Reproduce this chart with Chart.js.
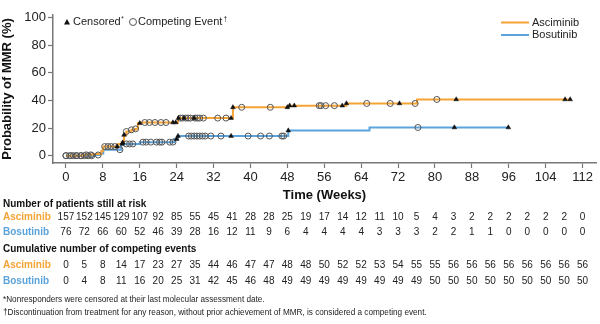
<!DOCTYPE html>
<html><head><meta charset="utf-8">
<script src="https://cdn.jsdelivr.net/npm/chart.js@4.4.1/dist/chart.umd.min.js"></script>
<style>html,body{margin:0;padding:0;background:#fff}#wrap{width:600px;height:324px;position:relative}</style>
</head><body><div id="wrap"><canvas id="c" width="600" height="324"></canvas></div>
<script>
// ---------- data ----------
const xTicks = [0,8,16,24,32,40,48,56,64,72,80,88,96,104,112];
const yTicks = [0,20,40,60,80,100];
const tableWeeks = [0,4,8,12,16,20,24,28,32,36,40,44,48,52,56,60,64,68,72,76,80,84,88,92,96,100,104,108,112];

const ascAtRisk = [157,152,145,129,107,92,85,55,45,41,28,28,25,19,17,14,12,11,10,5,4,3,2,2,2,2,2,2,0];
const bosAtRisk = [76,72,66,60,52,46,39,28,16,12,11,9,6,4,4,4,4,3,3,3,2,2,1,1,0,0,0,0,0];
const ascCompeting = [0,5,8,14,17,23,27,35,44,46,47,47,48,48,50,52,52,53,54,55,55,56,56,56,56,56,56,56,56];
const bosCompeting = [0,4,8,11,16,20,25,31,42,45,46,48,49,49,49,49,49,49,49,49,50,50,50,50,50,50,50,50,50];

// cumulative incidence step curves (week at which value starts, %)
const ascStepWeeks = [0,3.6,5.9,7.7,8.1,11.3,12.1,12.6,13.1,14.2,15.1,15.6,16.3,24.3,36.2,48.3,60.8,76.1,109.4];
const ascStepPct   = [0,0.6,1.2,3.5,6.6,8.5,9.5,15,17.5,18.7,19.4,23.5,24,27.2,35,36.2,37.8,40.7,40.7];
const bosStepWeeks = [0,6.3,7.3,8.1,12,16,23.5,24.3,48.2,65.8,95.9];
const bosStepPct   = [0,0.5,1.5,4.3,8.5,9.8,12,14.2,18.2,20.4,20.4];

// marker weeks
const ascCensoredWeeks = [11.1,12.3,12.6,16.0,23.2,23.8,24.4,25.6,27.8,35.8,36.2,48.0,48.5,49.5,59.9,60.8,72.3,84.6,108.2,109.3];
const ascCompetingWeeks = [0,1.1,2.2,3.3,4.4,5.4,8.4,9.1,9.8,10.6,13.1,14.2,15.1,17.1,18.1,19.3,20.6,21.7,24.8,25.3,26.0,26.5,27.0,28.0,28.5,29.0,29.8,32.9,34.7,38.1,44.3,54.9,55.3,56.3,58.2,65.2,70.3,75.7,80.4];
const bosCensoredWeeks = [12.2,24.0,24.3,35.8,48.2,84.2,95.9];
const bosCompetingWeeks = [0,0.8,1.6,2.4,3.2,4.0,4.8,5.6,7.0,11.7,13.1,13.8,14.5,16.7,17.4,18.4,19.6,20.3,20.8,22.5,23.2,26.6,27.2,27.8,28.4,29.0,29.6,30.2,31.4,33.6,39.5,42.2,44.1,46.8,47.2,76.3];

// ---------- helpers ----------
const FAM = '"Liberation Sans", Arial, Helvetica, sans-serif';
const ORANGE = '#F5A334';
const BLUE = '#5BA3DC';
function steps(ws, ps){ return ws.map((w,i)=>({x:w,y:ps[i]})); }
function valueAt(ws, ps, w){ let v = ps[0]; for (let i=0;i<ws.length;i++){ if (ws[i] <= w + 1e-9) v = ps[i]; } return v; }
function markers(mw, ws, ps){ return mw.map(w=>({x:w, y:valueAt(ws, ps, w)})); }

const circleStyle = {type:'line', showLine:false, pointStyle:'circle', pointRadius:3, pointHoverRadius:3,
  pointBackgroundColor:'rgba(255,255,255,0)', pointBorderColor:'#555', pointBorderWidth:1, order:0};
const triStyle = {type:'line', showLine:false, pointStyle:'triangle', pointRadius:2.7, pointHoverRadius:2.7,
  pointBackgroundColor:'#111', pointBorderColor:'#111', pointBorderWidth:0.5, order:0};

const overlay = {
  id:'overlay',
  afterDraw(chart){
    const ctx = chart.ctx, xs = chart.scales.x;
    ctx.save();
    ctx.textBaseline = 'middle';
    // top-left marker legend
    ctx.fillStyle = '#111';
    ctx.beginPath(); ctx.moveTo(67,19); ctx.lineTo(70,24.5); ctx.lineTo(64,24.5); ctx.closePath(); ctx.fill();
    ctx.font = '11px ' + FAM; ctx.textAlign = 'left'; ctx.fillStyle = '#222';
    ctx.fillText('Censored', 73, 22);
    let w1 = ctx.measureText('Censored').width;
    ctx.font = '6.5px ' + FAM; ctx.fillText('*', 73 + w1 + 0.5, 19);
    ctx.strokeStyle = '#555'; ctx.lineWidth = 1;
    ctx.beginPath(); ctx.arc(133, 22, 3.5, 0, Math.PI*2); ctx.stroke();
    ctx.font = '11px ' + FAM;
    ctx.fillText('Competing Event', 138, 22);
    let w2 = ctx.measureText('Competing Event').width;
    ctx.font = '6.5px ' + FAM; ctx.fillText('\u2020', 138 + w2 + 1, 19);
    // right series legend
    ctx.lineWidth = 2;
    ctx.strokeStyle = ORANGE; ctx.beginPath(); ctx.moveTo(501,22.5); ctx.lineTo(529,22.5); ctx.stroke();
    ctx.strokeStyle = BLUE; ctx.beginPath(); ctx.moveTo(501,35); ctx.lineTo(529,35); ctx.stroke();
    ctx.font = '11px ' + FAM; ctx.fillStyle = '#222';
    ctx.fillText('Asciminib', 532, 22.5);
    ctx.fillText('Bosutinib', 532, 35);

    // tables
    const row = (label, color, vals, y) => {
      ctx.font = 'bold 10px ' + FAM; ctx.fillStyle = color; ctx.textAlign = 'left';
      ctx.fillText(label, 3, y);
      ctx.font = '10px ' + FAM; ctx.fillStyle = '#222'; ctx.textAlign = 'center';
      vals.forEach((v,i)=> ctx.fillText(String(v), xs.getPixelForValue(tableWeeks[i]), y));
    };
    ctx.font = 'bold 10px ' + FAM; ctx.fillStyle = '#111'; ctx.textAlign = 'left';
    ctx.fillText('Number of patients still at risk', 3, 204);
    row('Asciminib', ORANGE, ascAtRisk, 217.5);
    row('Bosutinib', BLUE, bosAtRisk, 232.5);
    ctx.font = 'bold 10px ' + FAM; ctx.fillStyle = '#111'; ctx.textAlign = 'left';
    ctx.fillText('Cumulative number of competing events', 3, 249.5);
    row('Asciminib', ORANGE, ascCompeting, 265.5);
    row('Bosutinib', BLUE, bosCompeting, 281);
    // footnotes
    ctx.font = '8.2px ' + FAM; ctx.fillStyle = '#222'; ctx.textAlign = 'left';
    ctx.fillText('*Nonresponders were censored at their last molecular assessment date.', 3, 300);
    ctx.fillText('\u2020Discontinuation from treatment for any reason, without prior achievement of MMR, is considered a competing event.', 3, 313);
    ctx.restore();
  }
};

new Chart(document.getElementById('c'), {
  type:'line',
  data:{ datasets:[
    Object.assign({label:'Asciminib censored', data:markers(ascCensoredWeeks, ascStepWeeks, ascStepPct)}, triStyle),
    Object.assign({label:'Bosutinib censored', data:markers(bosCensoredWeeks, bosStepWeeks, bosStepPct)}, triStyle),
    Object.assign({label:'Asciminib competing', data:markers(ascCompetingWeeks, ascStepWeeks, ascStepPct)}, circleStyle),
    Object.assign({label:'Bosutinib competing', data:markers(bosCompetingWeeks, bosStepWeeks, bosStepPct)}, circleStyle),
    {label:'Asciminib', data:steps(ascStepWeeks, ascStepPct), stepped:true, borderColor:ORANGE, borderWidth:2, pointRadius:0, fill:false, order:1},
    {label:'Bosutinib', data:steps(bosStepWeeks, bosStepPct), stepped:true, borderColor:BLUE, borderWidth:2, pointRadius:0, fill:false, order:1}
  ]},
  options:{
    responsive:false, animation:false, devicePixelRatio:1,
    layout:{padding:{left:0, right:2, top:15, bottom:121}},
    plugins:{legend:{display:false}, tooltip:{enabled:false}},
    scales:{
      x:{type:'linear', min:-2.8, max:114.9,
        afterBuildTicks:s=>{ s.ticks = xTicks.map(v=>({value:v})); },
        grid:{display:true, drawOnChartArea:false, drawTicks:true, tickLength:5, tickColor:'#777', tickWidth:1.2},
        border:{display:true, color:'#777', width:1.5},
        ticks:{font:{size:13, family:FAM}, color:'#222', padding:2, maxRotation:0, autoSkip:false},
        title:{display:true, text:'Time (Weeks)', font:{size:13, weight:'bold', family:FAM}, color:'#111', padding:{top:0,bottom:0}},
        afterFit:s=>{ s.height = 40; }
      },
      y:{type:'linear', min:-5.3, max:101.8,
        afterBuildTicks:s=>{ s.ticks = yTicks.map(v=>({value:v})); },
        grid:{display:true, drawOnChartArea:false, drawTicks:true, tickLength:5, tickColor:'#777', tickWidth:1.2},
        border:{display:true, color:'#777', width:1.5},
        ticks:{font:{size:13, family:FAM}, color:'#222', padding:2},
        title:{display:true, text:'Probability of MMR (%)', font:{size:13, weight:'bold', family:FAM}, color:'#111', padding:{top:0,bottom:0}},
        afterFit:s=>{ s.width = 53; }
      }
    }
  },
  plugins:[overlay]
});
</script></body></html>
